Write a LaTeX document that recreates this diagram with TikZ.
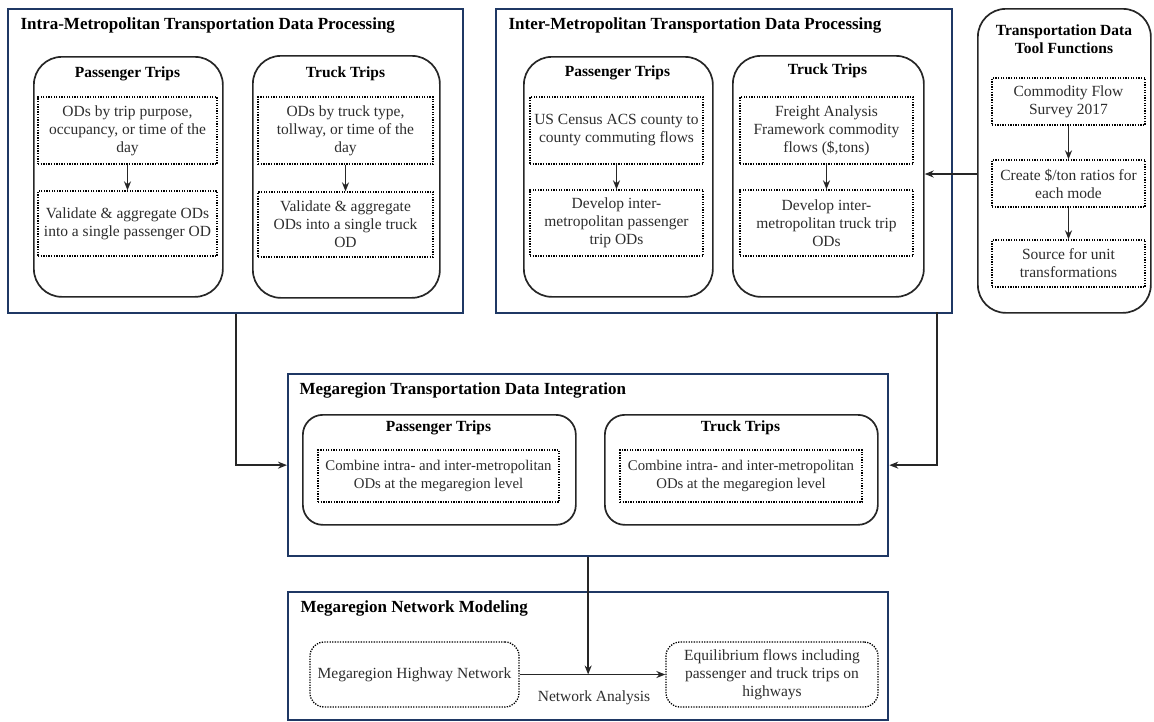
\documentclass[tikz,border=0pt]{standalone}
\usepackage{fontspec}
\setmainfont{Liberation Serif}
\definecolor{Navy}{RGB}{31, 56, 100}
\definecolor{BodyGray}{RGB}{45, 45, 45}
\usetikzlibrary{arrows.meta, positioning, calc}

\begin{document}
\begin{tikzpicture}[x=1pt, y=-1pt, >={Stealth[length=9pt, width=7pt]},
    groupbox/.style={draw=Navy, line width=2.3pt, anchor=north west, inner sep=0pt},
    tripbox/.style={draw=black!85, line width=1.7pt, rounded corners=28pt, anchor=north west, inner sep=0pt},
    stepbox/.style={draw=black, line width=1.3pt, dash pattern=on 1.3pt off 1.3pt, align=center,
        inner sep=0pt, text=BodyGray, font=\fontsize{15.5}{18}\selectfont},
    grouptitle/.style={anchor=west, font=\fontsize{17}{20}\selectfont\bfseries},
    triptitle/.style={align=center, font=\fontsize{15.5}{18}\selectfont\bfseries},
    flow/.style={->, line width=1.8pt, black!85}]
    \useasboundingbox (0,0) rectangle (1154,721);
    % Intra-metropolitan block
    \node[groupbox, minimum width=455, minimum height=304] (intra) at (7,8) {};
    \node[grouptitle] (intratitle) at (17,25) {Intra-Metropolitan Transportation Data Processing};
    \node[tripbox, minimum width=189, minimum height=240] (intrapass) at (33,56) {};
    \node[triptitle] (intrapasstitle) at (127.5,74) {Passenger Trips};
    \node[stepbox, minimum width=179, minimum height=67] (intrapass1) at (127.5,130.5)
        {ODs by trip purpose,\\occupancy, or time of the\\day};
    \node[stepbox, minimum width=179, minimum height=65] (intrapass2) at (127.5,223.5)
        {Validate \& aggregate ODs\\into a single passenger OD};
    \draw[flow] (intrapass1) -- (intrapass2);
    \node[tripbox, minimum width=187, minimum height=242] (intratruck) at (252,55) {};
    \node[triptitle] (intratrucktitle) at (345.5,74) {Truck Trips};
    \node[stepbox, minimum width=175, minimum height=67] (intratruck1) at (345.5,130.5)
        {ODs by truck type,\\tollway, or time of the\\day};
    \node[stepbox, minimum width=175, minimum height=65] (intratruck2) at (345.5,224.5)
        {Validate \& aggregate\\ODs into a single truck\\OD};
    \draw[flow] (intratruck1) -- (intratruck2);
    % Inter-metropolitan block
    \node[groupbox, minimum width=456, minimum height=304] (inter) at (495,8) {};
    \node[grouptitle] (intertitle) at (505,25) {Inter-Metropolitan Transportation Data Processing};
    \node[tripbox, minimum width=189, minimum height=240] (interpass) at (523,56) {};
    \node[triptitle] (interpasstitle) at (617.5,73) {Passenger Trips};
    \node[stepbox, minimum width=173, minimum height=67] (interpass1) at (616.5,130.5)
        {US Census ACS county to\\county commuting flows};
    \node[stepbox, minimum width=173, minimum height=66] (interpass2) at (616.5,223)
        {Develop inter-\\metropolitan passenger\\trip ODs};
    \draw[flow] (interpass1) -- (interpass2);
    \node[tripbox, minimum width=191, minimum height=241] (intertruck) at (732,55) {};
    \node[triptitle] (intertrucktitle) at (827.5,71) {Truck Trips};
    \node[stepbox, minimum width=173, minimum height=67] (intertruck1) at (826.5,130.5)
        {Freight Analysis\\Framework commodity\\flows (\$,tons)};
    \node[stepbox, minimum width=173, minimum height=66] (intertruck2) at (826.5,223)
        {Develop inter-\\metropolitan truck trip\\ODs};
    \draw[flow] (intertruck1) -- (intertruck2);
    % Tool functions
    \node[tripbox, minimum width=173, minimum height=304] (tools) at (977,8) {};
    \node[triptitle] (toolstitle) at (1064,39) {Transportation Data\\Tool Functions};
    \node[stepbox, minimum width=153, minimum height=47] (cfs) at (1068.5,101.5)
        {Commodity Flow\\Survey 2017};
    \node[stepbox, minimum width=153, minimum height=47] (ratios) at (1068.5,183.5)
        {Create \$/ton ratios for\\each mode};
    \node[stepbox, minimum width=153, minimum height=47] (units) at (1068.5,263.5)
        {Source for unit\\transformations};
    \draw[flow] (cfs) -- (ratios);
    \draw[flow] (ratios) -- (units);
    \coordinate (toolsout) at (977,174);
    \draw[flow] (toolsout) -- (toolsout -| intertruck.east);
    % Megaregion integration
    \node[groupbox, minimum width=600, minimum height=182] (mega) at (287,373) {};
    \node[grouptitle] (megatitle) at (296,390) {Megaregion Transportation Data Integration};
    \node[tripbox, rounded corners=20pt, minimum width=273, minimum height=110] (megapass) at (302,414) {};
    \node[triptitle] (megapasstitle) at (438.5,428) {Passenger Trips};
    \node[stepbox, font=\fontsize{14.8}{18}\selectfont, minimum width=241, minimum height=52] (megapass1) at (438.5,476)
        {Combine intra- and inter-metropolitan\\ODs at the megaregion level};
    \node[tripbox, rounded corners=20pt, minimum width=273, minimum height=110] (megatruck) at (604,414) {};
    \node[triptitle] (megatrucktitle) at (740.5,428) {Truck Trips};
    \node[stepbox, font=\fontsize{14.8}{18}\selectfont, minimum width=242, minimum height=52] (megatruck1) at (741,476)
        {Combine intra- and inter-metropolitan\\ODs at the megaregion level};
    \coordinate (interout) at (937,312);
    \draw[flow] (intra.south) |- (mega.west);
    \draw[flow] (interout) |- (mega.east);
    % Network modeling
    \node[groupbox, minimum width=600, minimum height=128] (net) at (287,591) {};
    \node[grouptitle] (nettitle) at (297,608) {Megaregion Network Modeling};
    \node[stepbox, rounded corners=14pt, minimum width=209, minimum height=65] (hwy) at (414.5,674.5)
        {Megaregion Highway Network};
    \node[stepbox, rounded corners=14pt, minimum width=212, minimum height=65] (equil) at (772,674.5)
        {Equilibrium flows including\\passenger and truck trips on\\highways};
    \draw[flow] (hwy) -- (equil);
    \draw[flow] (mega.south) -- (mega.south |- hwy.east);
    \node[text=BodyGray, font=\fontsize{15.5}{18}\selectfont] (netanalysis) at (594,698) {Network Analysis};
\end{tikzpicture}
\end{document}
